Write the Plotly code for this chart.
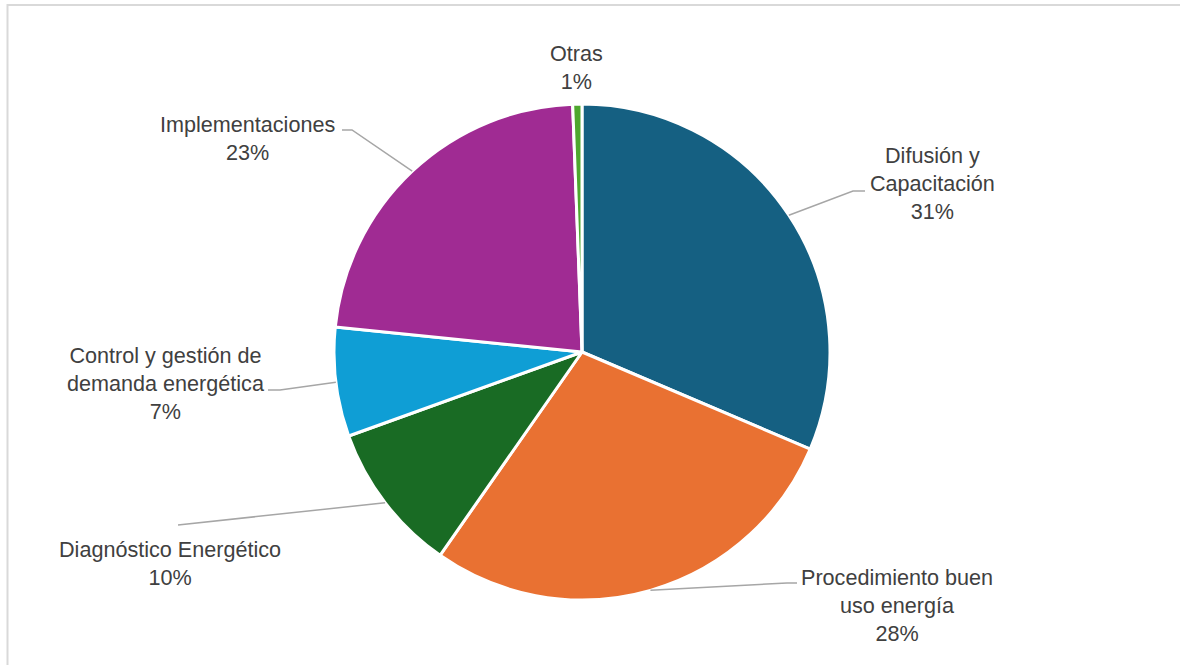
import math
import plotly.graph_objects as go

# ---- data ----
categories = ["Difusión y<br>Capacitación", "Procedimiento buen<br>uso energía",
              "Diagnóstico Energético", "Control y gestión de<br>demanda energética",
              "Implementaciones", "Otras"]
values = [31.4, 28.3, 9.8, 7.1, 22.8, 0.6]
colors = ["#156082", "#E97132", "#196B24", "#0F9ED5", "#A02B93", "#4EA72E"]

# ---- layout (pixels) ----
W, H = 1180, 665
pie_box = (334, 104, 830, 600)  # left, top, right, bottom
# label centre (x, y), leader end (x, y), elbow (x, y) or None for no leader
label_pos = [
    ((932, 184), (865, 191), (853, 191)),
    ((897, 605), (797, 583), (787, 583)),
    ((170, 563), (178, 525), (178, 525)),
    ((166, 383), (268, 390), (280, 390)),
    ((247, 138), (342, 130), (352, 130)),
    ((576, 67), None, None),
]

def px(x):
    return x / W

def py(y):
    return 1 - y / H

fig = go.Figure(go.Pie(
    labels=[c.replace("<br>", " ") for c in categories],
    values=values,
    sort=False,
    direction="clockwise",
    rotation=0,
    textinfo="none",
    hoverinfo="label+percent",
    marker=dict(colors=colors, line=dict(color="white", width=3)),
    domain=dict(x=[px(pie_box[0]), px(pie_box[2])], y=[py(pie_box[3]), py(pie_box[1])]),
    showlegend=False,
))

cx = (pie_box[0] + pie_box[2]) / 2
cy = (pie_box[1] + pie_box[3]) / 2
r = min(pie_box[2] - pie_box[0], pie_box[3] - pie_box[1]) / 2
total = sum(values)

annotations = []
shapes = []
cum = 0.0
for cat, v, (lc, le, elb) in zip(categories, values, label_pos):
    mid = (cum + v / 2) / total * 2 * math.pi
    cum += v
    pct = round(v / total * 100)
    annotations.append(dict(
        x=px(lc[0]), y=py(lc[1]), xref="paper", yref="paper",
        text=f"{cat}<br>{pct}%", showarrow=False, align="center",
        xanchor="center", yanchor="middle",
        font=dict(family="Liberation Sans, Arial, sans-serif", size=21.6, color="#404040"),
    ))
    if le is not None:
        sx = cx + r * math.sin(mid)
        sy = cy - r * math.cos(mid)
        path = f"M {px(sx)},{py(sy)} L {px(elb[0])},{py(elb[1])} L {px(le[0])},{py(le[1])}"
        shapes.append(dict(type="path", xref="paper", yref="paper", path=path,
                           line=dict(color="#A6A6A6", width=1.5)))

# outer chart border (top and left visible)
shapes.append(dict(type="rect", xref="paper", yref="paper",
                   x0=px(7.5), y0=py(700), x1=px(1200), y1=py(5),
                   line=dict(color="#D9D9D9", width=2)))

fig.update_layout(
    width=W, height=H,
    margin=dict(l=0, r=0, t=0, b=0),
    paper_bgcolor="white", plot_bgcolor="white",
    annotations=annotations, shapes=shapes,
)

fig.write_html("out.html")
